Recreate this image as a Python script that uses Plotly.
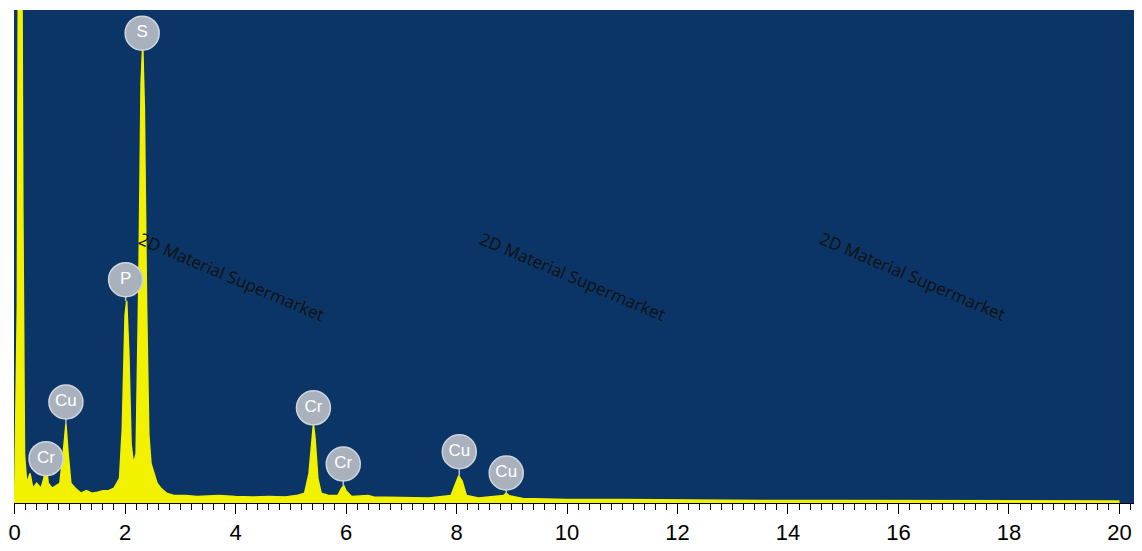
import plotly.graph_objects as go

energy = [0.00,0.05,0.08,0.12,0.15,0.18,0.22,0.28,0.33,0.40,0.48,0.53,0.57,0.61,0.68,0.75,0.82,0.88,0.93,0.97,1.02,1.1,1.2,1.3,1.4,1.5,1.6,1.7,1.8,1.9,1.95,2.0,2.03,2.07,2.11,2.15,2.2,2.25,2.29,2.32,2.35,2.39,2.43,2.47,2.52,2.58,2.65,2.75,2.9,3.1,3.3,3.5,3.7,4.0,4.3,4.6,4.9,5.1,5.25,5.33,5.38,5.41,5.44,5.49,5.55,5.7,5.85,5.92,5.96,6.0,6.1,6.4,6.5,7.0,7.5,7.9,7.98,8.04,8.1,8.18,8.4,8.85,8.9,8.95,9.2,10,11,12,13,14,15,16,17,18,19,20]
counts = [0,40,150,150,60,10,4,6,3,4,3,5,8,4,3,3.5,4,10,16,10,4,3,2,2.5,2,2.2,2.5,2.5,3,5,15,38,41,30,12,8,10,45,85,93,80,40,14,8,6,4,3,2,1.5,1.5,1.3,1.4,1.5,1.3,1.2,1.3,1.2,1.5,2,6,13,16,13,5,2,1.5,1.5,3,3.5,2.5,1.3,1.5,1.2,1.1,1,1.5,4,5.5,4.5,1.5,1,1.5,2,1.5,0.9,0.7,0.7,0.6,0.6,0.5,0.5,0.5,0.4,0.4,0.4,0.4]

label_text = ["S","P","Cu","Cr","Cr","Cr","Cu","Cu"]
label_x = [2.31,2.01,0.93,0.57,5.41,5.95,8.05,8.9]
label_y = [95.3,45.3,20.5,9.0,19.3,7.9,10.4,6.1]
peak_y = [93,41,16,8,16,3.5,5.5,2]

fig = go.Figure()
fig.add_trace(go.Scatter(x=energy, y=counts, mode="lines", fill="tozeroy",
                         line=dict(color="#f2f200", width=1.5), fillcolor="#f2f200",
                         hoverinfo="skip"))
for lx, ly, py in zip(label_x, label_y, peak_y):
    fig.add_trace(go.Scatter(x=[lx, lx], y=[py, ly], mode="lines",
                             line=dict(color="#b8c0cc", width=1.5), hoverinfo="skip"))
fig.add_trace(go.Scatter(x=label_x, y=label_y, mode="markers+text", text=label_text,
                         textfont=dict(color="white", size=17, family="Arial"),
                         marker=dict(size=34, color="#a9b1bd", line=dict(color="#d0d5dc", width=1.5))))

for px in [0.193, 0.496, 0.798]:
    fig.add_annotation(xref="paper", yref="paper", x=px, y=0.46, xanchor="center", yanchor="middle",
                       text="2D Material Supermarket",
                       showarrow=False, textangle=23, font=dict(size=17, color="#111111", family="Open Sans"))

fig.update_layout(width=1142, height=551, margin=dict(l=6, r=9, t=2, b=56, autoexpand=False),
                  plot_bgcolor="#0b3566", paper_bgcolor="white", showlegend=False,
                  xaxis=dict(range=[-0.01, 20.39], dtick=2, tick0=0, ticks="outside", ticklen=10,
                             tickcolor="black", showgrid=False, zeroline=False, showline=True,
                             linecolor="black", tickfont=dict(size=22, color="black", family="Arial"),
                             minor=dict(dtick=0.2, ticks="outside", ticklen=6, tickcolor="black")),
                  yaxis=dict(range=[0, 100], visible=False))
fig.write_html("out.html")
